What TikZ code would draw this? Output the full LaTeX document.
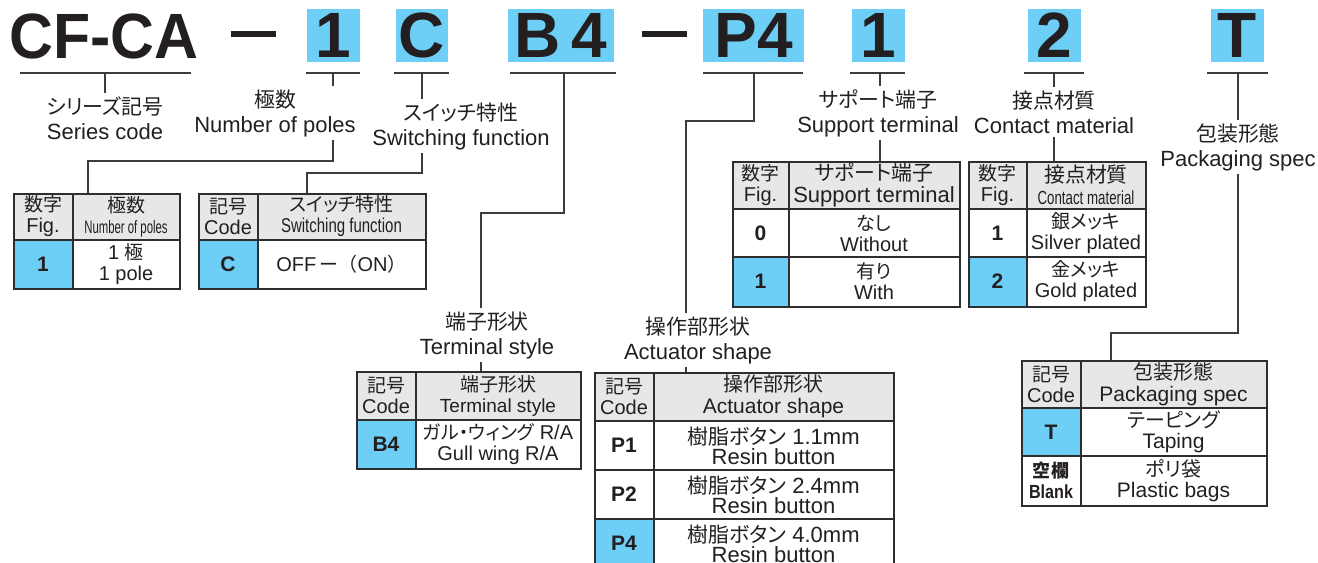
\documentclass[tikz,border=0pt]{standalone}
\usepackage{fontspec}
\usepackage{graphicx}
\usepackage{tikz}
\setmainfont{Liberation Sans}
\newfontfamily\jp[Scale=0.95,RawFeature={+palt}]{Noto Sans CJK JP}
\newfontfamily\jpw[Scale=0.95]{Noto Sans CJK JP}
\newcommand\cond[2]{\scalebox{#1}[1]{#2}}
\definecolor{ink}{HTML}{231F20}
\definecolor{codeblue}{HTML}{6DCFF6}
\definecolor{headgray}{HTML}{E6E7E8}
\definecolor{linegray}{HTML}{3C3C3C}
\definecolor{framegray}{HTML}{2E2E2E}

\begin{document}
\begin{tikzpicture}[x=1bp,y=-1bp,
	codebox/.style={fill=codeblue,minimum height=53bp,inner sep=0pt,text=ink,font=\fontsize{64bp}{64bp}\selectfont\bfseries},
	uline/.style={line width=1.2bp,draw=linegray},
	conn/.style={line width=1.2bp,draw=linegray},
	lab/.style={align=center,inner sep=3bp,text=ink,font=\fontsize{22bp}{25bp}\selectfont},
	cell/.style={align=center,inner sep=0pt,text=ink,font=\fontsize{20bp}{21bp}\selectfont},
	bigcell/.style={align=center,inner sep=0pt,text=ink,font=\fontsize{22bp}{20bp}\selectfont},
	codecell/.style={inner sep=0pt,text=ink,font=\fontsize{21bp}{21bp}\selectfont\bfseries},
	rule/.style={draw=framegray,line width=1.1bp},
	tabframe/.style={draw=framegray,line width=2bp,inner sep=0pt,anchor=north west}]
	\fill[white] (0,0) rectangle (1318,563);
	\useasboundingbox (0,0) rectangle (1318,563);
	
	%TOP ROW
	\node[text=ink,font=\fontsize{64bp}{64bp}\selectfont\bfseries] (cfca) at (104,36) {\cond{0.95}{CF-CA}};
	\fill[ink] (231,31) rectangle (276,37);
	\node[codebox,minimum width=53bp] (c1) at (333.5,35.5) {1};
	\node[codebox,minimum width=52bp] (c2) at (422,35.5) {C};
	\node[codebox,minimum width=106bp] (c3) at (561,35.5) {B\,4};
	\fill[ink] (642,31) rectangle (687,37);
	\node[codebox,minimum width=101bp] (c4) at (753.5,35.5) {P4};
	\node[codebox,minimum width=53bp] (c5) at (878.5,35.5) {1};
	\node[codebox,minimum width=53bp] (c6) at (1054.5,35.5) {2};
	\node[codebox,minimum width=53bp] (c7) at (1237.5,35.5) {T};
	%
	\foreach \a/\b in {20/191,306/360,394/449,510/616,703/803,850/905,1024/1084,1207/1268}
		\draw[uline] (\a,73)--(\b,73);
	\coordinate (u0) at (105,73);
	\coordinate (u1) at (333,73);
	\coordinate (u2) at (422,73);
	\coordinate (u3) at (564,73);
	\coordinate (u4) at (754,73);
	\coordinate (u5) at (880,73);
	\coordinate (u6) at (1054,73);
	\coordinate (u7) at (1238,73);
	
	%LABELS
	\node[lab] (series) at (105,118) {{\jp シリーズ記号}\\Series code};
	\node[lab] (poles) at (275,113) {{\jp 極数}\\Number of poles};
	\node[lab] (switch) at (461,126) {{\jp スイッチ特性}\\Switching function};
	\node[lab] (term) at (487,335) {{\jp 端子形状}\\Terminal style};
	\node[lab] (act) at (698,340) {{\jp 操作部形状}\\Actuator shape};
	\node[lab] (supp) at (878,113) {{\jp サポート端子}\\Support terminal};
	\node[lab] (cont) at (1054,112) {{\jp 接点材質}\\Contact material};
	\node[lab] (pack) at (1238,147) {{\jp 包装形態}\\Packaging spec};
	
	%TABLE poles
	\fill[headgray] (13,193) rectangle (179,240);
	\fill[codeblue] (13,240) rectangle (73,288);
	\draw[rule] (73,193)--(73,288) (13,240)--(179,240);
	\node[cell] (t1h1) at (43,216.5) {{\jp 数字}\\Fig.};
	\node[cell] (t1h2) at (126,216.5) {{\jp 極数}\\{\fontsize{18bp}{20bp}\selectfont\cond{0.63}{Number of poles}}};
	\node[codecell] (t1a) at (43,264) {1};
	\node[cell] (t1b) at (126,264) {1 {\jp 極}\\1 pole};
	\node[tabframe,minimum width=166bp,minimum height=95bp] (tab1) at (13,193) {};
	
	%TABLE switching
	\fill[headgray] (198,193) rectangle (425,240);
	\fill[codeblue] (198,240) rectangle (258,288);
	\draw[rule] (258,193)--(258,288) (198,240)--(425,240);
	\node[cell] (t2h1) at (228,216.5) {{\jp 記号}\\Code};
	\node[cell] (t2h2) at (341.5,216.5) {{\jp スイッチ特性}\\\cond{0.75}{Switching function}};
	\node[codecell] (t2a) at (228,264) {C};
	\node[cell] (t2b) at (341.5,264) {OFF\,{\jpw ー（}ON{\jpw ）}};
	\node[tabframe,minimum width=227bp,minimum height=95bp] (tab2) at (198,193) {};
	
	%TABLE terminal
	\fill[headgray] (356,371) rectangle (580,420);
	\fill[codeblue] (356,420) rectangle (416,468);
	\draw[rule] (416,371)--(416,468) (356,420)--(580,420);
	\node[cell] (t3h1) at (386,395.5) {{\jp 記号}\\Code};
	\node[cell] (t3h2) at (498,395.5) {{\jp 端子形状}\\{\fontsize{19bp}{21bp}\selectfont Terminal style}};
	\node[codecell] (t3a) at (386,444) {B4};
	\node[cell] (t3b) at (498,444) {{\jp ガル・ウィング} R/A\\Gull wing R/A};
	\node[tabframe,minimum width=224bp,minimum height=97bp] (tab3) at (356,371) {};
	
	%TABLE actuator
	\fill[headgray] (594,372) rectangle (893,421);
	\fill[codeblue] (594,519) rectangle (654,568);
	\draw[rule] (654,372)--(654,568) (594,421)--(893,421) (594,470)--(893,470) (594,519)--(893,519);
	\node[cell] (t4h1) at (624,396.5) {{\jp 記号}\\Code};
	\node[cell,font=\fontsize{21bp}{22bp}\selectfont] (t4h2) at (773.5,396.5) {{\jp 操作部形状}\\Actuator shape};
	\node[codecell] (t4a) at (624,445.5) {P1};
	\node[bigcell] (t4b) at (773.5,445.5) {{\jp 樹脂ボタン} 1.1mm\\Resin button};
	\node[codecell] (t4c) at (624,494.5) {P2};
	\node[bigcell] (t4d) at (773.5,494.5) {{\jp 樹脂ボタン} 2.4mm\\Resin button};
	\node[codecell] (t4e) at (624,543.5) {P4};
	\node[bigcell] (t4f) at (773.5,543.5) {{\jp 樹脂ボタン} 4.0mm\\Resin button};
	\node[tabframe,minimum width=299bp,minimum height=196bp] (tab4) at (594,372) {};
	
	%TABLE support
	\fill[headgray] (732,161) rectangle (959,209);
	\fill[codeblue] (732,257) rectangle (789,306);
	\draw[rule] (789,161)--(789,306) (732,209)--(959,209) (732,257)--(959,257);
	\node[cell] (t5h1) at (760.5,185) {{\jp 数字}\\Fig.};
	\node[cell,font=\fontsize{22bp}{22bp}\selectfont] (t5h2) at (874,185) {{\jp サポート端子}\\Support terminal};
	\node[codecell] (t5a) at (760.5,233) {0};
	\node[cell] (t5b) at (874,233) {{\jp なし}\\Without};
	\node[codecell] (t5c) at (760.5,281.5) {1};
	\node[cell] (t5d) at (874,281.5) {{\jp 有り}\\With};
	\node[tabframe,minimum width=227bp,minimum height=145bp] (tab5) at (732,161) {};
	
	%TABLE contact
	\fill[headgray] (968,161) rectangle (1145,209);
	\fill[codeblue] (968,257) rectangle (1027,306);
	\draw[rule] (1027,161)--(1027,306) (968,209)--(1145,209) (968,257)--(1145,257);
	\node[cell] (t6h1) at (997.5,185) {{\jp 数字}\\Fig.};
	\node[cell,font=\fontsize{22bp}{22bp}\selectfont] (t6h2) at (1086,185) {{\jp 接点材質}\\{\fontsize{19bp}{21bp}\selectfont\cond{0.7}{Contact material}}};
	\node[codecell] (t6a) at (997.5,233) {1};
	\node[cell] (t6b) at (1086,233) {{\jp 銀メッキ}\\Silver plated};
	\node[codecell] (t6c) at (997.5,281.5) {2};
	\node[cell] (t6d) at (1086,281.5) {{\jp 金メッキ}\\Gold plated};
	\node[tabframe,minimum width=177bp,minimum height=145bp] (tab6) at (968,161) {};
	
	%TABLE packaging
	\fill[headgray] (1021,360) rectangle (1266,408);
	\fill[codeblue] (1021,408) rectangle (1081,456);
	\draw[rule] (1081,360)--(1081,505) (1021,408)--(1266,408) (1021,456)--(1266,456);
	\node[cell] (t7h1) at (1051,384) {{\jp 記号}\\Code};
	\node[cell,font=\fontsize{21bp}{22bp}\selectfont] (t7h2) at (1173.5,384) {{\jp 包装形態}\\Packaging spec};
	\node[codecell] (t7a) at (1051,432) {T};
	\node[cell,font=\fontsize{21bp}{21bp}\selectfont] (t7b) at (1173.5,432) {{\jp テーピング}\\Taping};
	\node[codecell,align=center,font=\fontsize{19bp}{21bp}\selectfont\bfseries] (t7c) at (1051,480.5) {{\jp 空欄}\\\cond{0.85}{Blank}};
	\node[cell,font=\fontsize{21bp}{21bp}\selectfont] (t7d) at (1173.5,480.5) {{\jp ポリ袋}\\Plastic bags};
	\node[tabframe,minimum width=245bp,minimum height=145bp] (tab7) at (1021,360) {};
	
	%CONNECTORS
	\draw[conn] (u0)--(u0 |- series.north);
	\coordinate (k1) at (88,161);
	\draw[conn] (u1)--(u1 |- poles.north);
	\draw[conn] (u1 |- poles.south) |- (k1)--(k1 |- tab1.north);
	\coordinate (k2) at (307,173);
	\draw[conn] (u2)--(u2 |- switch.north);
	\draw[conn] (u2 |- switch.south) |- (k2)--(k2 |- tab2.north);
	\coordinate (k3) at (481,213);
	\draw[conn] (u3) |- (k3)--(k3 |- term.north);
	\draw[conn] (k3 |- term.south)--(k3 |- tab3.north);
	\coordinate (k4) at (686,121);
	\draw[conn] (u4) |- (k4)--(k4 |- act.north);
	\draw[conn] (k4 |- act.south)--(k4 |- tab4.north);
	\draw[conn] (u5)--(u5 |- supp.north);
	\draw[conn] (u5 |- supp.south)--(u5 |- tab5.north);
	\draw[conn] (u6)--(u6 |- cont.north);
	\draw[conn] (u6 |- cont.south)--(u6 |- tab6.north);
	\coordinate (k7) at (1111,333);
	\draw[conn] (u7)--(u7 |- pack.north);
	\draw[conn] (u7 |- pack.south) |- (k7)--(k7 |- tab7.north);
	
	%\draw[help lines] (0,0) grid[step=50] (1318,563);
\end{tikzpicture}
\end{document}
